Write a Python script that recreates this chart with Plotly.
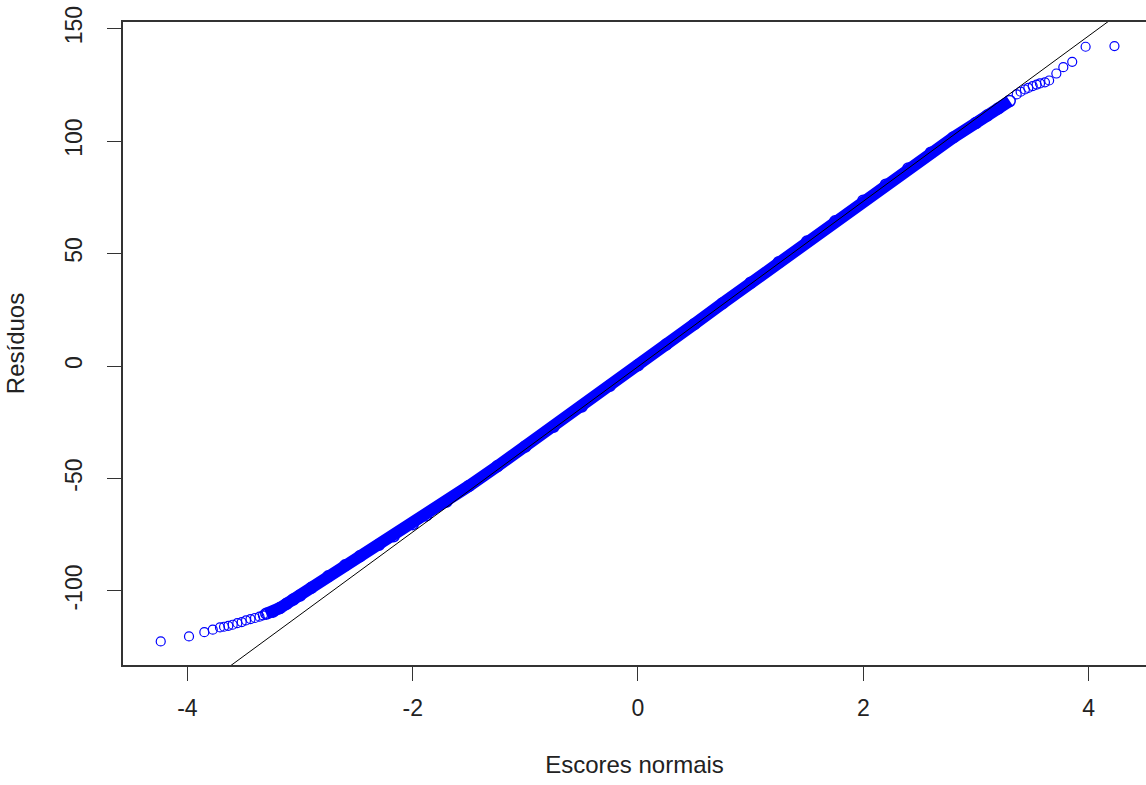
import plotly.graph_objects as go

# ---- data ----
# dense part of the normal QQ band (theoretical quantile, residual)
band_x = [-3.30, -3.24, -3.18, -3.12, -3.06, -3.00, -2.90, -2.75, -2.60, -2.47,
          -2.30, -2.17, -2.00, -1.88, -1.70, -1.50, -1.25, -1.00, -0.75, -0.50,
          -0.25, 0.00, 0.25, 0.50, 0.75, 1.00, 1.25, 1.50, 1.75, 2.00,
          2.20, 2.40, 2.60, 2.80, 3.00, 3.10, 3.20, 3.30]
band_y = [-110.1, -109.2, -107.6, -105.7, -103.8, -102.0, -98.6, -93.5, -88.6, -84.6,
          -79.5, -75.7, -70.3, -66.4, -60.3, -53.3, -44.6, -35.8, -27.0, -18.0,
          -8.8, 0.3, 9.5, 18.6, 27.8, 37.0, 46.1, 55.3, 64.3, 73.5,
          80.6, 87.8, 94.8, 101.6, 108.0, 111.3, 114.5, 117.8]

# individually visible points in the tails
low_x = [-4.237, -3.986, -3.850, -3.775, -3.711, -3.675, -3.637, -3.598, -3.557,
         -3.518, -3.480, -3.440, -3.400, -3.360, -3.330, -3.296, -3.237]
low_y = [-122.4, -120.2, -118.3, -117.2, -116.2, -115.9, -115.5, -115.0, -114.3,
         -113.8, -113.1, -112.5, -112.0, -111.4, -110.8, -110.1, -109.4]
up_x = [3.362, 3.397, 3.435, 3.465, 3.504, 3.539, 3.569, 3.613, 3.650, 3.714,
        3.776, 3.855, 3.974, 4.230]
up_y = [120.7, 121.9, 122.9, 123.6, 124.4, 125.1, 125.6, 126.1, 126.9, 130.0,
        132.8, 135.2, 141.9, 142.2]

# reference (qqline) intercept and slope
line_intercept = -0.3
line_slope = 36.75

x_ticks = [-4, -2, 0, 2, 4]
y_ticks = [-100, -50, 0, 50, 100, 150]
x_range = [-4.572, 4.510]
y_range = [-132.9, 152.9]

BLUE = "#0000FF"
FONT = "Liberation Sans, Arial, sans-serif"

fig = go.Figure()

# dense band
fig.add_trace(go.Scatter(x=band_x, y=band_y, mode="lines",
                         line=dict(color=BLUE, width=12), hoverinfo="skip",
                         showlegend=False))
# ring texture along the band (softens the band ends)
fig.add_trace(go.Scatter(x=band_x, y=band_y, mode="markers",
                         marker=dict(symbol="circle-open", size=11,
                                     color=BLUE, line=dict(width=1.5, color=BLUE)),
                         hoverinfo="skip", showlegend=False))

# tail points
fig.add_trace(go.Scatter(x=low_x + up_x, y=low_y + up_y, mode="markers",
                         marker=dict(symbol="circle-open", size=9,
                                     color=BLUE, line=dict(width=1.2, color=BLUE)),
                         showlegend=False))

# qqline
lx = [x_range[0], x_range[1]]
ly = [line_intercept + line_slope * v for v in lx]
fig.add_trace(go.Scatter(x=lx, y=ly, mode="lines",
                         line=dict(color="black", width=1), showlegend=False))

fig.update_layout(
    width=1146, height=785,
    margin=dict(l=123, r=0, t=22, b=120),
    paper_bgcolor="white", plot_bgcolor="white",
    font=dict(family=FONT, size=23, color="#222222"),
    showlegend=False,
)
fig.update_xaxes(
    range=x_range, tickvals=x_ticks, ticktext=[str(v) for v in x_ticks],
    showgrid=False, zeroline=False,
    showline=True, linecolor="#333333", linewidth=1.5, mirror=True,
    ticks="outside", ticklen=14, tickcolor="#333333", tickwidth=1,
    ticklabelstandoff=8,
    title=dict(text="Escores normais", standoff=36, font=dict(size=24)),
    automargin=False,
)
fig.update_yaxes(
    range=y_range, tickvals=y_ticks, ticktext=[str(v) for v in y_ticks],
    showgrid=False, zeroline=False,
    showline=True, linecolor="#333333", linewidth=1.5, mirror=False,
    ticks="outside", ticklen=14, tickcolor="#333333", tickwidth=1,
    tickangle=-90, ticklabelstandoff=16,
    title=dict(text="Resíduos", standoff=30, font=dict(size=24)),
    automargin=False,
)

fig.write_html("out.html")
